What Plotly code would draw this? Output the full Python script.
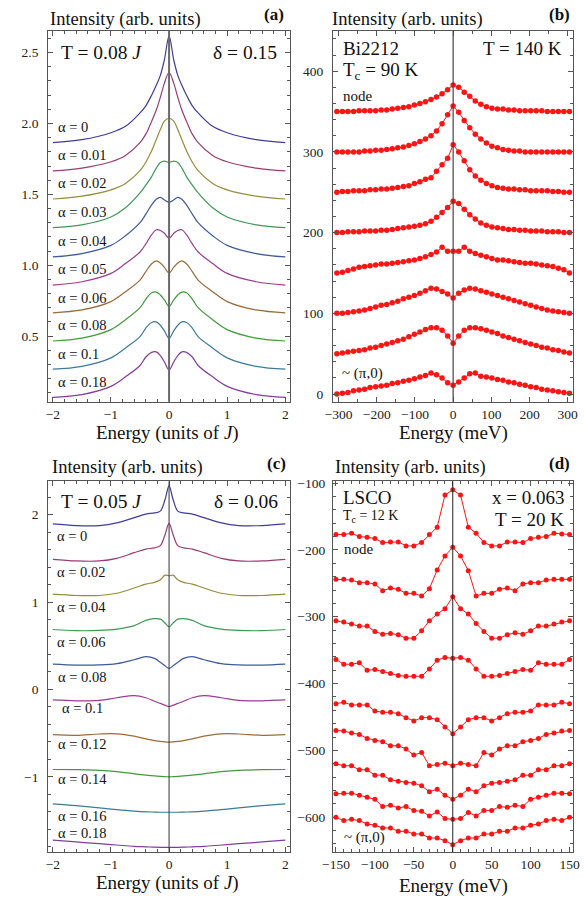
import plotly.graph_objects as go

W, H = 584, 899
FONT = "Liberation Serif"

# ---------------- Panel (a) data ----------------
xa = [-2, -1.5, -1, -0.75, -0.5, -0.4, -0.3, -0.22, -0.15, -0.08, 0,
      0.08, 0.15, 0.22, 0.3, 0.4, 0.5, 0.75, 1, 1.5, 2]
alpha_a = ["0", "0.01", "0.02", "0.03", "0.04", "0.05", "0.06", "0.08", "0.1", "0.18"]
a_00 = [1.865, 1.886, 1.935, 1.98, 2.075, 2.125, 2.2, 2.27, 2.34, 2.45, 2.617,
        2.45, 2.34, 2.27, 2.2, 2.125, 2.075, 1.98, 1.935, 1.886, 1.865]
a_01 = [1.665, 1.685, 1.73, 1.775, 1.865, 1.925, 2.015, 2.095, 2.185, 2.285, 2.36,
        2.285, 2.185, 2.095, 2.015, 1.925, 1.865, 1.775, 1.73, 1.685, 1.665]
a_02 = [1.467, 1.487, 1.532, 1.577, 1.667, 1.727, 1.807, 1.887, 1.957, 2.017, 2.037,
        2.017, 1.957, 1.887, 1.807, 1.727, 1.667, 1.577, 1.532, 1.487, 1.467]
a_03 = [1.265, 1.285, 1.34, 1.405, 1.51, 1.565, 1.625, 1.685, 1.725, 1.735, 1.725,
        1.735, 1.725, 1.685, 1.625, 1.565, 1.51, 1.405, 1.34, 1.285, 1.265]
a_04 = [1.058, 1.082, 1.14, 1.208, 1.3, 1.36, 1.425, 1.465, 1.479, 1.46, 1.443,
        1.46, 1.479, 1.465, 1.425, 1.36, 1.3, 1.208, 1.14, 1.082, 1.058]
a_05 = [0.86, 0.883, 0.942, 1.012, 1.093, 1.15, 1.215, 1.25, 1.245, 1.225, 1.19,
        1.225, 1.245, 1.25, 1.215, 1.15, 1.093, 1.012, 0.942, 0.883, 0.86]
a_06 = [0.664, 0.684, 0.743, 0.813, 0.895, 0.955, 1.01, 1.03, 1.015, 0.985, 0.945,
        0.985, 1.015, 1.03, 1.01, 0.955, 0.895, 0.813, 0.743, 0.684, 0.664]
a_08 = [0.465, 0.485, 0.545, 0.615, 0.7, 0.76, 0.805, 0.81, 0.79, 0.755, 0.708,
        0.755, 0.79, 0.81, 0.805, 0.76, 0.7, 0.615, 0.545, 0.485, 0.465]
a_10 = [0.266, 0.286, 0.346, 0.416, 0.496, 0.556, 0.596, 0.6, 0.576, 0.536, 0.484,
        0.536, 0.576, 0.6, 0.596, 0.556, 0.496, 0.416, 0.346, 0.286, 0.266]
a_18 = [0.067, 0.087, 0.145, 0.212, 0.292, 0.352, 0.385, 0.388, 0.362, 0.317, 0.26,
        0.317, 0.362, 0.388, 0.385, 0.352, 0.292, 0.212, 0.145, 0.087, 0.067]
curves_a = [a_00, a_01, a_02, a_03, a_04, a_05, a_06, a_08, a_10, a_18]

# ---------------- Panel (c) data ----------------
xc = [-2, -1.6, -1.2, -0.9, -0.6, -0.4, -0.25, -0.15, -0.07, 0,
      0.07, 0.15, 0.25, 0.4, 0.6, 0.9, 1.2, 1.6, 2]
alpha_c = ["0", "0.02", "0.04", "0.06", "0.08", "0.1", "0.12", "0.14", "0.16", "0.18"]
c_00 = [1.894, 1.875, 1.875, 1.905, 1.965, 2.005, 2.02, 2.04, 2.17, 2.33,
        2.17, 2.04, 2.02, 2.005, 1.965, 1.905, 1.875, 1.875, 1.894]
c_02 = [1.489, 1.47, 1.47, 1.5, 1.565, 1.605, 1.62, 1.645, 1.77, 1.9,
        1.77, 1.645, 1.62, 1.605, 1.565, 1.5, 1.47, 1.47, 1.489]
c_04 = [1.09, 1.075, 1.075, 1.1, 1.16, 1.205, 1.225, 1.255, 1.307, 1.3,
        1.307, 1.255, 1.225, 1.205, 1.16, 1.1, 1.075, 1.075, 1.09]
c_06 = [0.686, 0.672, 0.675, 0.69, 0.73, 0.79, 0.81, 0.805, 0.76, 0.715,
        0.76, 0.805, 0.81, 0.79, 0.73, 0.69, 0.675, 0.672, 0.686]
c_08 = [0.289, 0.278, 0.28, 0.295, 0.34, 0.375, 0.355, 0.31, 0.27, 0.24,
        0.27, 0.31, 0.355, 0.375, 0.34, 0.295, 0.28, 0.278, 0.289]
c_10 = [-0.12, -0.13, -0.125, -0.095, -0.07, -0.095, -0.135, -0.16, -0.18, -0.195,
        -0.18, -0.16, -0.135, -0.095, -0.07, -0.095, -0.125, -0.13, -0.12]
c_12 = [-0.518, -0.525, -0.51, -0.508, -0.535, -0.565, -0.585, -0.595, -0.6, -0.602,
        -0.6, -0.595, -0.585, -0.565, -0.535, -0.508, -0.51, -0.525, -0.518]
c_14 = [-0.916, -0.918, -0.925, -0.94, -0.965, -0.98, -0.99, -0.995, -0.998, -1.0,
        -0.998, -0.995, -0.99, -0.98, -0.965, -0.94, -0.925, -0.918, -0.916]
c_16 = [-1.31, -1.33, -1.355, -1.375, -1.392, -1.4, -1.403, -1.405, -1.405, -1.405,
        -1.405, -1.405, -1.403, -1.4, -1.392, -1.375, -1.355, -1.33, -1.31]
c_18 = [-1.723, -1.745, -1.765, -1.78, -1.795, -1.8, -1.805, -1.807, -1.807, -1.807,
        -1.807, -1.807, -1.805, -1.8, -1.795, -1.78, -1.765, -1.745, -1.723]
curves_c = [c_00, c_02, c_04, c_06, c_08, c_10, c_12, c_14, c_16, c_18]

# ---------------- Panel (b) data (Bi2212) ----------------
xb = [-304.5, -290, -275.5, -261, -246.5, -232, -217.5, -203, -188.5, -174, -159.5,
      -145, -130.5, -116, -101.5, -87, -72.5, -58, -43.5, -29, -14.5, 0,
      14.5, 29, 43.5, 58, 72.5, 87, 101.5, 116, 130.5, 145, 159.5, 174, 188.5,
      203, 217.5, 232, 246.5, 261, 275.5, 290, 304.5]
b_1 = [350, 350, 350, 350, 351, 351, 351, 351, 352, 352, 353, 354, 355, 356, 358, 360, 362, 365, 368, 372, 377,
       383,
       380, 374, 369, 363, 359, 356, 354, 353, 353, 352, 352, 351, 351, 351, 351, 351, 350, 350, 350, 350, 350]
b_2 = [300, 300, 300, 300, 300, 301, 301, 302, 302, 303, 304, 305, 306, 308, 310, 313, 316, 320, 326, 335, 346,
       357,
       349, 339, 330, 322, 316, 311, 307, 305, 303, 302, 301, 301, 300, 300, 300, 300, 300, 300, 300, 300, 300]
b_3 = [250, 251, 251, 252, 252, 252, 253, 253, 254, 254, 255, 256, 257, 258, 261, 263, 266, 268, 276, 284, 292,
       309,
       300, 289, 278, 270, 265, 261, 258, 256, 255, 254, 254, 253, 253, 252, 252, 252, 252, 251, 251, 250, 250]
b_4 = [200, 200, 201, 201, 201, 202, 202, 202, 203, 203, 204, 205, 206, 207, 208, 209, 211, 214, 219, 225, 231,
       239,
       236, 229, 222, 217, 212, 209, 207, 206, 205, 204, 204, 203, 203, 202, 202, 202, 201, 201, 201, 200, 200]
b_5 = [150, 151, 153, 155, 157, 158, 159, 160, 161, 161, 162, 163, 164, 165, 166, 168, 170, 173, 176, 182, 177,
       177,
       177, 182, 177, 174, 172, 170, 168, 166, 166, 165, 164, 163, 162, 162, 161, 160, 159, 158, 156, 154, 150]
b_6 = [100, 100, 101, 102, 103, 104, 106, 108, 110, 111, 113, 115, 118, 120, 122, 125, 128, 131, 130, 127, 124,
       119,
       125, 129, 131, 130, 128, 126, 124, 122, 120, 118, 116, 114, 112, 110, 108, 106, 104, 103, 102, 101, 100]
b_7 = [50, 51, 52, 53, 54, 55, 57, 58, 60, 62, 64, 66, 68, 71, 74, 77, 80, 82, 82, 79, 72,
       63,
       72, 79, 82, 82, 81, 79, 77, 75, 72, 70, 68, 66, 64, 62, 60, 58, 57, 55, 54, 52, 51]
b_8 = [0, 1, 2, 4, 5, 6, 8, 9, 10, 11, 13, 14, 16, 17, 19, 21, 23, 26, 24, 20, 14,
       11,
       15, 20, 25, 26, 22, 21, 20, 18, 17, 15, 14, 12, 11, 9, 8, 6, 5, 4, 3, 2, 1]
curves_b = [b_1, b_2, b_3, b_4, b_5, b_6, b_7, b_8]

# ---------------- Panel (d) data (LSCO) ----------------
xd = [-150, -140, -130, -120, -110, -100, -90, -80, -70, -60, -50, -40, -30, -20, -10, 0,
      10, 20, 30, 40, 50, 60, 70, 80, 90, 100, 110, 120, 130, 140, 150]
d_1 = [-177, -177, -175, -180, -181, -183, -189, -188, -188, -194, -194, -189, -177, -166, -118, -110,
       -118, -166, -175, -189, -194, -194, -188, -188, -189, -183, -181, -180, -175, -176, -177]
d_2 = [-244, -244, -245, -249, -249, -251, -261, -257, -259, -265, -265, -269, -258, -230, -209, -196,
       -209, -231, -269, -265, -265, -259, -257, -261, -251, -249, -249, -245, -244, -244, -244]
d_3 = [-306, -308, -311, -314, -314, -322, -326, -325, -327, -332, -332, -321, -306, -296, -288, -270,
       -288, -296, -310, -322, -332, -332, -327, -324, -326, -321, -314, -314, -311, -308, -306]
d_4 = [-364, -371, -371, -369, -380, -379, -382, -385, -388, -389, -389, -389, -378, -365, -361, -362,
       -361, -365, -378, -389, -389, -388, -385, -382, -379, -380, -369, -371, -371, -371, -364]
d_5 = [-430, -428, -432, -432, -432, -441, -443, -443, -445, -451, -456, -451, -451, -454, -465, -475,
       -465, -454, -451, -451, -456, -451, -445, -443, -443, -441, -432, -432, -432, -428, -430]
d_6 = [-470, -471, -474, -476, -482, -485, -487, -493, -493, -498, -507, -503, -523, -521, -519, -523,
       -519, -521, -523, -503, -507, -498, -493, -493, -487, -485, -482, -476, -474, -471, -470]
d_7 = [-520, -523, -523, -529, -529, -537, -537, -544, -546, -548, -549, -553, -562, -558, -567, -573,
       -567, -558, -562, -553, -549, -548, -546, -544, -537, -537, -529, -529, -523, -523, -520]
d_8 = [-565, -564, -564, -567, -570, -573, -584, -582, -586, -584, -590, -591, -598, -592, -602, -603,
       -602, -593, -598, -590, -590, -584, -585, -582, -584, -573, -570, -567, -564, -564, -565]
d_9 = [-600, -605, -603, -605, -610, -612, -616, -616, -621, -621, -625, -625, -631, -631, -635, -641,
       -635, -631, -631, -625, -625, -621, -621, -616, -616, -612, -610, -605, -603, -605, -600]
curves_d = [d_1, d_2, d_3, d_4, d_5, d_6, d_7, d_8, d_9]

# Mathematica-6 style default line colours
palette = ["#3f3d99", "#993d71", "#998b3d", "#3d9956", "#3d5a99",
           "#993d90", "#996c3d", "#43993d", "#3d7999", "#833d99"]
RED = "#ff1414"

fig = go.Figure()
for i, y in enumerate(curves_a):
    fig.add_trace(go.Scatter(x=xa, y=y, mode="lines", xaxis="x", yaxis="y",
                             line=dict(color=palette[i], width=1.2, shape="spline", smoothing=1.0),
                             name="α = " + alpha_a[i], showlegend=False, hoverinfo="skip"))
for y in curves_b:
    fig.add_trace(go.Scatter(x=xb, y=y, mode="lines+markers", xaxis="x2", yaxis="y2",
                             line=dict(color=RED, width=1),
                             marker=dict(color=RED, size=5.5),
                             showlegend=False, hoverinfo="skip"))
for i, y in enumerate(curves_c):
    fig.add_trace(go.Scatter(x=xc, y=y, mode="lines", xaxis="x3", yaxis="y3",
                             line=dict(color=palette[i], width=1.2, shape="spline", smoothing=1.0),
                             name="α = " + alpha_c[i], showlegend=False, hoverinfo="skip"))
for y in curves_d:
    fig.add_trace(go.Scatter(x=xd, y=y, mode="lines+markers", xaxis="x4", yaxis="y4",
                             line=dict(color=RED, width=1),
                             marker=dict(color=RED, size=5),
                             showlegend=False, hoverinfo="skip"))

FRAME = "#555555"


def axis(domain, rng, tickvals, minor_dtick, anchor, fmt=None, standoff=2):
    d = dict(domain=domain, range=rng, anchor=anchor, tickvals=tickvals,
             showline=True, linecolor=FRAME, linewidth=1, mirror="ticks",
             ticks="inside", ticklen=5, tickcolor=FRAME, tickwidth=1,
             showgrid=False, zeroline=False, ticklabelstandoff=standoff,
             tickfont=dict(family=FONT, size=13.5, color="#222"),
             minor=dict(dtick=minor_dtick, ticks="inside", ticklen=3,
                        tickcolor=FRAME, showgrid=False))
    if fmt:
        d["tickformat"] = fmt
    return d


def px(v):
    return v / W


def py(v):
    return 1 - v / H


xA = [px(38.3), px(287.3)]
xB = [px(331.5), px(579.3)]
yTop = [py(398.3), py(25)]
yBot = [py(851.7), py(478.6)]

fig.update_layout(
    width=W, height=H, margin=dict(l=0, r=0, t=0, b=0),
    paper_bgcolor="white", plot_bgcolor="white", showlegend=False,
    xaxis=axis(xA, [-2.08, 2.08], [-2, -1, 0, 1, 2], 0.2, "y", standoff=0),
    yaxis=axis(yTop, [0.037, 2.654], [0.5, 1.0, 1.5, 2.0, 2.5], 0.1, "x", ".1f", standoff=6),
    xaxis2=axis(xB, [-315, 315], [-300, -200, -100, 0, 100, 200, 300], 50, "y2", standoff=0),
    yaxis2=axis(yTop, [-9.4, 450], [0, 100, 200, 300, 400], 20, "x2", standoff=6),
    xaxis3=axis(xA, [-2.08, 2.08], [-2, -1, 0, 1, 2], 0.2, "y3", standoff=0),
    yaxis3=axis(yBot, [-1.86, 2.38], [-1, 0, 1, 2], 0.2, "x3", standoff=6),
    xaxis4=axis(xB, [-154, 155], [-150, -100, -50, 0, 50, 100, 150], 10, "y4", standoff=0),
    yaxis4=axis(yBot, [-652, -97.5], [-600, -500, -400, -300, -200, -100], 20, "x4", standoff=4),
)

shapes = []
for xr, yr, col, wd in [("x", "y domain", "#6a6a6a", 2), ("x2", "y2 domain", "#444", 1.2),
                        ("x3", "y3 domain", "#333", 1), ("x4", "y4 domain", "#222", 1)]:
    shapes.append(dict(type="line", xref=xr, yref=yr, x0=0, x1=0, y0=0, y1=1,
                       line=dict(color=col, width=wd), layer="above"))
fig.update_layout(shapes=shapes)

anns = []


def ann(text, x, ybase, size, anchor="left", bold=False):
    t = "<b>" + text + "</b>" if bold else text
    anns.append(dict(text=t, x=px(x), y=py(ybase - 0.32 * size), xref="paper", yref="paper",
                     xanchor=anchor, yanchor="middle", showarrow=False,
                     font=dict(family=FONT, size=size, color="#111")))


# titles and labels
for x0, yb in [(38.3, 19.5), (328.7, 19.5), (40.0, 470.5), (331.5, 470.5)]:
    ann("Intensity (arb. units)", x0, yb, 18.5)
ann("(a)", 283.5, 13.5, 17, "right", True)
ann("(b)", 577.5, 13.5, 17, "right", True)
ann("(c)", 285, 466.5, 17, "right", True)
ann("(d)", 577.5, 466.5, 17, "right", True)

ann("Energy (units of <i>J</i>)", 161, 436, 19, "center")
ann("Energy (meV)", 455.3, 436, 19, "center")
ann("Energy (units of <i>J</i>)", 161, 889, 19, "center")
ann("Energy (meV)", 455.3, 892, 19, "center")

# panel (a)
ann("T = 0.08 <i>J</i>", 49.3, 52.7, 19.5)
ann("δ = 0.15", 276.5, 52.7, 19.5, "right")
base_a = [126, 155, 183.3, 211.7, 241.7, 269.3, 298.3, 326, 355, 383.3]
for a, yb in zip(alpha_a, base_a):
    ann("α = " + a, 46, yb, 14.5)

# panel (b)
ann("Bi2212", 340.3, 49.3, 19)
ann("T = 140 K", 569.5, 49.3, 19, "right")
ann("T<sub>c</sub> = 90 K", 340.3, 72, 19)
ann("node", 340.3, 95, 15)
ann("~ (π,0)", 338.7, 375, 15)

# panel (c)
ann("T = 0.05 <i>J</i>", 49.3, 505, 19.5)
ann("δ = 0.06", 277.5, 505, 19.5, "right")
pos_c = [(45, 538.3), (45, 574), (45, 609.3), (45, 645), (46.7, 680), (50.7, 711.7),
         (46.7, 747.3), (46.7, 783.3), (46.7, 820), (46.7, 836.7)]
for a, (x0, yb) in zip(alpha_c, pos_c):
    ann("α = " + a, x0, yb, 14.5)

# panel (d)
ann("LSCO", 339.7, 500.7, 19)
ann("T<sub>c</sub> = 12 K", 339.7, 518, 14)
ann("node", 341.3, 551, 15)
ann("x = 0.063", 571.5, 500.7, 19, "right")
ann("T = 20 K", 571.5, 522.7, 19, "right")
ann("~ (π,0)", 341.3, 841.7, 15)

fig.update_layout(annotations=anns)
fig.write_html("out.html")
